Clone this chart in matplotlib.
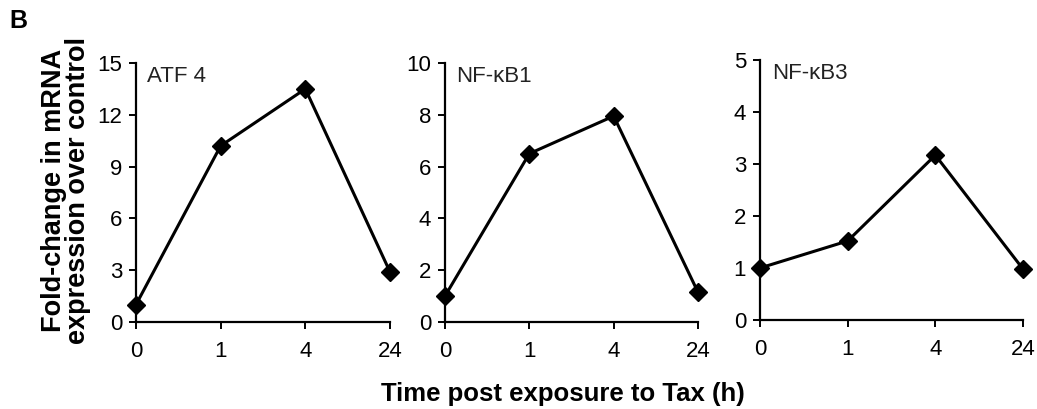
import matplotlib.pyplot as plt

plt.rcParams['font.family'] = ['Liberation Sans', 'DejaVu Sans']

# time points (categorical on the x axis)
time_labels = ['0', '1', '4', '24']

# fold-change values
atf4 = [1.0, 10.2, 13.5, 2.9]
nfkb1 = [1.0, 6.5, 7.95, 1.15]
nfkb3 = [1.0, 1.52, 3.17, 0.98]

panel_names = ['ATF 4', 'NF-\u03baB1', 'NF-\u03baB3']
panel_data = [atf4, nfkb1, nfkb3]
y_max = [15, 10, 5]
y_step = [3, 2, 1]

# axes boxes in figure fraction
boxes = [
    [0.1311, 0.2127, 0.2450, 0.6333],
    [0.4291, 0.2127, 0.2440, 0.6333],
    [0.7329, 0.2176, 0.2536, 0.6357],
]

fig = plt.figure(figsize=(10.37, 4.09), dpi=100)

for name, vals, ymax, step, box in zip(panel_names, panel_data, y_max, y_step, boxes):
    ax = fig.add_axes(box)
    xs = list(range(len(time_labels)))
    ax.plot(xs, vals, color='black', lw=2.2, marker='D', markersize=9,
            clip_on=False, zorder=3)
    ax.set_xlim(0, len(time_labels) - 1)
    ax.set_ylim(0, ymax)
    ax.set_xticks(xs)
    ax.set_xticklabels(time_labels)
    ax.set_yticks(range(0, ymax + 1, step))
    ax.spines['top'].set_visible(False)
    ax.spines['right'].set_visible(False)
    ax.spines['left'].set_linewidth(1.6)
    ax.spines['bottom'].set_linewidth(1.6)
    ax.tick_params(axis='both', direction='out', length=5, width=1.4,
                   labelsize=16, colors='black')
    ax.tick_params(axis='x', pad=9)
    ax.tick_params(axis='y', pad=5)
    ax.text(0.045, 0.99, name, transform=ax.transAxes, fontsize=16,
            ha='left', va='top', color='#222222')

fig.text(66 / 1037, 1 - 190 / 409, 'Fold-change in mRNA\nexpression over control',
         rotation=90, ha='center', va='center', fontsize=19.5,
         fontweight='bold', linespacing=0.9)
fig.text(563 / 1037, 1 - 394 / 409, 'Time post exposure to Tax (h)',
         ha='center', va='center', fontsize=18.5, fontweight='bold')
fig.text(9 / 1037, 1 - 21 / 409, 'B', ha='left', va='center',
         fontsize=18, fontweight='bold')

fig.savefig('out.png', dpi=100)
